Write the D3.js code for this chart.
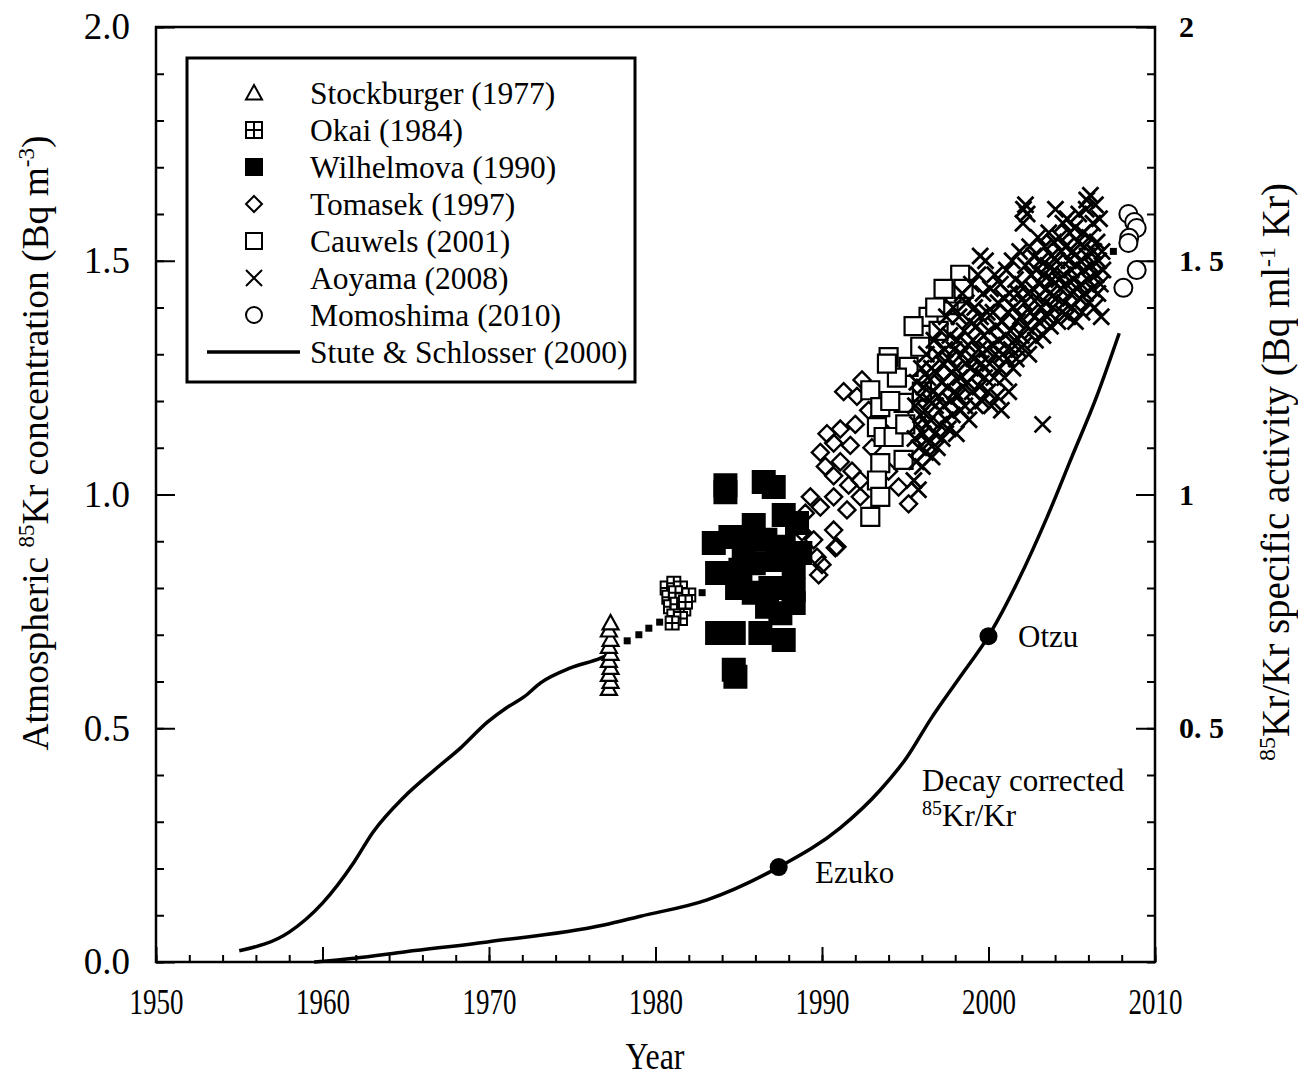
<!DOCTYPE html>
<html>
<head>
<meta charset="utf-8">
<script src="https://cdn.jsdelivr.net/npm/d3@7"></script>
<style>
body { margin: 0; background: #fff; }
text { font-family: "Liberation Serif", "Times New Roman", serif; fill: #000; }
</style>
</head>
<body>
<script>
// ---- data ----
const stuteYears = [1955.0, 1958.0, 1960.0, 1961.9, 1963.0, 1964.9, 1966.7, 1968.3, 1969.9, 1971.1, 1972.1, 1973.1, 1974.9, 1976.7, 1977.3]
const stuteValues = [0.024, 0.064, 0.126, 0.214, 0.276, 0.353, 0.41, 0.458, 0.513, 0.545, 0.567, 0.597, 0.629, 0.650, 0.660]

const decayYears = [1959.5, 1961.9, 1965.0, 1969.9, 1976.9, 1979.1, 1983.1, 1987.4, 1991.1, 1993.5, 1995.1, 1996.5, 1998.3, 2000.0, 2001.8, 2003.5, 2005.0, 2006.5, 2007.85]
const decayValues = [0.0, 0.008, 0.022, 0.043, 0.079, 0.098, 0.133, 0.203, 0.287, 0.368, 0.438, 0.518, 0.61, 0.697, 0.817, 0.95, 1.08, 1.21, 1.345]

const sites = [['Ezuko', 1987.4, 0.203], ['Otzu', 2000.0, 0.697]]

const stockburger = [[1977.2, 0.585], [1977.3, 0.60], [1977.2, 0.615], [1977.3, 0.63], [1977.2, 0.645], [1977.3, 0.66], [1977.2, 0.675], [1977.3, 0.69], [1977.2, 0.71], [1977.3, 0.725]]

const bridge = [[1978.3, 0.687], [1979.0, 0.70], [1979.6, 0.714], [1980.25, 0.727], [1982.8, 0.79], [2007.5, 1.52]]

const okai = [[1980.7, 0.80], [1981.1, 0.81], [1981.5, 0.80], [1980.8, 0.78], [1981.2, 0.79], [1981.6, 0.775], [1982.0, 0.785],
  [1980.9, 0.76], [1981.3, 0.765], [1981.7, 0.755], [1981.1, 0.74], [1981.5, 0.735], [1981.0, 0.725], [1981.8, 0.77]]

const wilhelmova = [[1984.2, 1.02], [1986.5, 1.027], [1987.1, 1.016], [1985.9, 0.935], [1987.7, 0.956], [1988.5, 0.939],
  [1983.5, 0.896], [1984.5, 0.909], [1985.3, 0.888], [1986.6, 0.903], [1987.7, 0.888], [1988.7, 0.875],
  [1983.7, 0.832], [1985.1, 0.839], [1985.9, 0.853], [1987.3, 0.86], [1988.3, 0.845], [1984.9, 0.80],
  [1985.9, 0.79], [1986.9, 0.80], [1988.3, 0.795], [1986.7, 0.76], [1988.3, 0.768], [1987.5, 0.746],
  [1983.7, 0.704], [1984.7, 0.704], [1986.3, 0.704], [1987.7, 0.689], [1984.7, 0.625], [1984.8, 0.61], [1984.2, 1.005]]

const tomasek = [[1990.2, 1.06], [1990.7, 1.04], [1989.3, 0.995], [1989.9, 0.973], [1990.7, 0.995], [1990.7, 0.924],
  [1989.5, 0.903], [1989.7, 0.866], [1990.8, 0.886], [1989.8, 0.828], [1991.3, 1.22], [1992.4, 1.245],
  [1992.1, 1.21], [1990.3, 1.13], [1991.1, 1.14], [1992.0, 1.15], [1989.9, 1.09], [1990.7, 1.11],
  [1991.7, 1.105], [1991.1, 1.07], [1991.8, 1.05], [1992.3, 1.03], [1991.5, 0.967], [1990.9, 0.888],
  [1994.6, 1.016], [1992.3, 0.995], [1989.0, 0.96], [1988.8, 0.92], [1993.0, 1.10], [1994.0, 1.05],
  [1993.6, 1.14], [1995.2, 0.98], [1992.8, 1.18], [1990.0, 0.85], [1991.6, 1.02]]

const cauwels = [[1994.0, 1.294], [1996.4, 1.38], [1995.5, 1.36], [1997.6, 1.405], [1992.9, 1.223], [1993.5, 1.187],
  [1993.3, 1.144], [1993.7, 1.123], [1993.5, 1.067], [1993.3, 1.03], [1993.5, 0.995], [1992.9, 0.952],
  [1994.9, 1.074], [1994.9, 1.196], [1994.3, 1.123], [1995.2, 1.273], [1995.9, 1.316], [1994.1, 1.20],
  [1998.3, 1.47], [1998.0, 1.43], [1997.0, 1.35], [1996.8, 1.40], [1994.5, 1.25], [1995.0, 1.15],
  [1996.0, 1.22], [1993.9, 1.28], [1997.3, 1.44], [1998.5, 1.44]]

const aoyama = [
  [1995.52, 1.03], [1995.58, 1.12], [1995.61, 1.19], [1995.66, 1.07], [1995.70, 1.24], [1995.74, 1.15], [1995.79, 1.01], [1995.83, 1.10], [1995.88, 1.21], [1995.92, 1.17], [1995.97, 1.27],
  [1996.03, 1.06], [1996.07, 1.13], [1996.12, 1.23], [1996.18, 1.18], [1996.22, 1.09], [1996.27, 1.30], [1996.31, 1.15], [1996.36, 1.25], [1996.41, 1.11], [1996.46, 1.20],
  [1996.52, 1.16], [1996.57, 1.27], [1996.61, 1.08], [1996.66, 1.22], [1996.72, 1.33], [1996.77, 1.13], [1996.82, 1.19], [1996.88, 1.26], [1996.93, 1.10], [1996.97, 1.30],
  [1997.02, 1.21], [1997.06, 1.15], [1997.11, 1.35], [1997.17, 1.24], [1997.22, 1.12], [1997.27, 1.28], [1997.33, 1.19], [1997.38, 1.31], [1997.43, 1.16], [1997.47, 1.38],
  [1997.53, 1.23], [1997.58, 1.14], [1997.63, 1.29], [1997.68, 1.34], [1997.72, 1.20], [1997.78, 1.26], [1997.83, 1.17], [1997.88, 1.40], [1997.93, 1.31], [1997.97, 1.22],
  [1998.02, 1.27], [1998.07, 1.13], [1998.13, 1.33], [1998.18, 1.21], [1998.23, 1.38], [1998.28, 1.25], [1998.33, 1.18], [1998.38, 1.30], [1998.43, 1.43], [1998.48, 1.23],
  [1998.53, 1.35], [1998.58, 1.19], [1998.62, 1.28], [1998.67, 1.41], [1998.72, 1.24], [1998.78, 1.32], [1998.83, 1.16], [1998.87, 1.37], [1998.92, 1.27], [1998.97, 1.45],
  [1999.02, 1.22], [1999.07, 1.33], [1999.12, 1.29], [1999.17, 1.40], [1999.22, 1.19], [1999.27, 1.36], [1999.32, 1.26], [1999.37, 1.47], [1999.42, 1.31], [1999.47, 1.23],
  [1999.52, 1.38], [1999.57, 1.28], [1999.62, 1.20], [1999.67, 1.43], [1999.72, 1.34], [1999.77, 1.25], [1999.82, 1.50], [1999.87, 1.31], [1999.92, 1.39], [1999.97, 1.22],
  [2000.02, 1.35], [2000.07, 1.28], [2000.12, 1.44], [2000.17, 1.19], [2000.22, 1.32], [2000.27, 1.39], [2000.32, 1.25], [2000.37, 1.47], [2000.42, 1.30], [2000.47, 1.36],
  [2000.52, 1.21], [2000.57, 1.41], [2000.62, 1.33], [2000.67, 1.27], [2000.72, 1.45], [2000.77, 1.18], [2000.82, 1.37], [2000.87, 1.30], [2000.92, 1.42], [2000.97, 1.25],
  [2001.02, 1.34], [2001.07, 1.48], [2001.12, 1.29], [2001.17, 1.39], [2001.22, 1.22], [2001.27, 1.43], [2001.32, 1.35], [2001.37, 1.31], [2001.42, 1.50], [2001.47, 1.27],
  [2001.52, 1.40], [2001.57, 1.33], [2001.62, 1.46], [2001.67, 1.29], [2001.72, 1.37], [2001.77, 1.43], [2001.82, 1.31], [2001.87, 1.52], [2001.92, 1.38], [2001.97, 1.34],
  [2002.02, 1.45], [2002.07, 1.58], [2002.12, 1.32], [2002.17, 1.41], [2002.22, 1.49], [2002.27, 1.36], [2002.32, 1.60], [2002.37, 1.43], [2002.42, 1.30], [2002.47, 1.53],
  [2002.52, 1.39], [2002.57, 1.47], [2002.62, 1.35], [2002.67, 1.44], [2002.72, 1.51], [2002.77, 1.38], [2002.82, 1.33], [2002.87, 1.48], [2002.92, 1.42], [2002.97, 1.55],
  [2003.02, 1.37], [2003.07, 1.45], [2003.12, 1.50], [2003.17, 1.40], [2003.25, 1.15], [2003.27, 1.34], [2003.32, 1.47], [2003.37, 1.53], [2003.42, 1.41], [2003.47, 1.44],
  [2003.52, 1.38], [2003.57, 1.49], [2003.62, 1.56], [2003.67, 1.43], [2003.72, 1.36], [2003.77, 1.51], [2003.82, 1.46], [2003.87, 1.40], [2003.92, 1.54], [2003.97, 1.48],
  [2004.02, 1.61], [2004.07, 1.42], [2004.12, 1.50], [2004.17, 1.37], [2004.22, 1.46], [2004.27, 1.55], [2004.32, 1.44], [2004.37, 1.52], [2004.42, 1.39], [2004.47, 1.58],
  [2004.52, 1.47], [2004.57, 1.41], [2004.62, 1.53], [2004.67, 1.45], [2004.72, 1.59], [2004.77, 1.38], [2004.82, 1.50], [2004.87, 1.56], [2004.92, 1.43], [2004.97, 1.48],
  [2005.02, 1.40], [2005.07, 1.52], [2005.12, 1.46], [2005.17, 1.57], [2005.22, 1.37], [2005.27, 1.49], [2005.32, 1.44], [2005.37, 1.54], [2005.42, 1.60], [2005.47, 1.42],
  [2005.52, 1.50], [2005.57, 1.45], [2005.62, 1.39], [2005.67, 1.56], [2005.72, 1.48], [2005.77, 1.53], [2005.82, 1.43], [2005.87, 1.61], [2005.92, 1.51], [2005.97, 1.46],
  [2006.02, 1.41], [2006.07, 1.55], [2006.12, 1.64], [2006.17, 1.49], [2006.22, 1.44], [2006.27, 1.58], [2006.32, 1.52], [2006.37, 1.40], [2006.42, 1.62], [2006.47, 1.47],
  [2006.52, 1.54], [2006.57, 1.43], [2006.62, 1.50], [2006.67, 1.59], [2006.72, 1.45], [2006.77, 1.38], [2006.82, 1.52], [2006.87, 1.48],
  [2002.10, 1.61], [2002.22, 1.62], [1999.50, 1.51], [2005.90, 1.63]
]

const momoshima = [[2008.4, 1.60], [2008.75, 1.583], [2008.9, 1.57], [2008.45, 1.549], [2008.4, 1.538], [2008.9, 1.48], [2008.1, 1.442]]

const legendNames = ['Stockburger (1977)', 'Okai (1984)', 'Wilhelmova (1990)', 'Tomasek (1997)', 'Cauwels (2001)', 'Aoyama (2008)', 'Momoshima (2010)', 'Stute & Schlosser (2000)']
const yearTicks = [1950, 1960, 1970, 1980, 1990, 2000, 2010]
const leftTicks = [0, 0.5, 1.0, 1.5, 2.0]
const rightTicks = [0.5, 1, 1.5, 2]
const rightTickLabels = ['0. 5', '1', '1. 5', '2']

// ---- layout ----
const width = 1298
const height = 1077
const plotLeft = 156, plotRight = 1155, plotTop = 27, plotBottom = 962

const x = d3.scaleLinear().domain([1950, 2010]).range([plotLeft, plotRight])
const y = d3.scaleLinear().domain([0, 2]).range([plotBottom, plotTop])

const svg = d3.select('body').append('svg')
    .attr('width', width)
    .attr('height', height)

// marker shapes, size = half width in px
const shapes = {
    triangle: { draw (c, r) { c.moveTo(0, -r); c.lineTo(r, r * 0.8); c.lineTo(-r, r * 0.8); c.closePath() } },
    square: { draw (c, r) { c.rect(-r, -r, 2 * r, 2 * r) } },
    gridSquare: { draw (c, r) { c.rect(-r, -r, 2 * r, 2 * r); c.moveTo(0, -r); c.lineTo(0, r); c.moveTo(-r, 0); c.lineTo(r, 0) } },
    diamond: { draw (c, r) { c.moveTo(0, -r); c.lineTo(r, 0); c.lineTo(0, r); c.lineTo(-r, 0); c.closePath() } },
    times: { draw (c, r) { c.moveTo(-r, -r); c.lineTo(r, r); c.moveTo(r, -r); c.lineTo(-r, r) } },
    circle: { draw (c, r) { c.moveTo(r, 0); c.arc(0, 0, r, 0, 2 * Math.PI) } }
}

const series = [
    { data: stockburger, shape: 'triangle', r: 8, fill: '#fff', sw: 2.2 },
    { data: okai, shape: 'gridSquare', r: 6.5, fill: '#fff', sw: 2 },
    { data: wilhelmova, shape: 'square', r: 11, fill: '#000', sw: 2 },
    { data: tomasek, shape: 'diamond', r: 8.5, fill: 'none', sw: 2.4 },
    { data: cauwels, shape: 'square', r: 9, fill: '#fff', sw: 2.2 },
    { data: aoyama, shape: 'times', r: 8, fill: 'none', sw: 2.8 },
    { data: momoshima, shape: 'circle', r: 9, fill: '#fff', sw: 2 }
]

// ---- axes ----
const styleAxis = g => {
    g.select('.domain').remove()
    g.selectAll('line').attr('stroke', '#000').attr('stroke-width', 2)
}

svg.append('g')
    .attr('transform', `translate(0,${plotBottom})`)
    .call(d3.axisBottom(x).tickValues(d3.range(1950, 2011, 2)).tickSize(-7).tickFormat(''))
    .call(styleAxis)

const xAxis = svg.append('g')
    .attr('transform', `translate(0,${plotBottom})`)
    .call(d3.axisBottom(x).tickValues(yearTicks).tickSize(-15).tickFormat(d3.format('d')))
    .call(styleAxis)
xAxis.selectAll('text')
    .attr('y', 0).attr('dy', 0)
    .attr('transform', 'translate(0,52) scale(1,1.3)')
    .attr('font-size', 27)
    .attr('font-family', '"Liberation Serif", serif')

svg.append('g')
    .attr('transform', `translate(${plotLeft},0)`)
    .call(d3.axisLeft(y).tickValues(d3.range(0, 2.01, 0.1)).tickSize(-8).tickFormat(''))
    .call(styleAxis)

svg.append('g')
    .attr('transform', `translate(${plotLeft},0)`)
    .call(d3.axisLeft(y).tickValues(leftTicks).tickSize(-19).tickPadding(26).tickFormat(d3.format('.1f')))
    .call(styleAxis)
    .selectAll('text')
    .attr('font-size', 37)
    .attr('font-family', '"Liberation Serif", serif')

svg.append('g')
    .attr('transform', `translate(${plotRight},0)`)
    .call(d3.axisRight(y).tickValues(d3.range(0, 2.01, 0.1)).tickSize(-8).tickFormat(''))
    .call(styleAxis)

svg.append('g')
    .attr('transform', `translate(${plotRight},0)`)
    .call(d3.axisRight(y).tickValues(rightTicks).tickSize(-19).tickPadding(24)
        .tickFormat(d => rightTickLabels[rightTicks.indexOf(d)]))
    .call(styleAxis)
    .selectAll('text')
    .attr('font-size', 30)
    .attr('font-weight', 'bold')
    .attr('font-family', '"Liberation Sans", sans-serif')

// frame
svg.append('rect')
    .attr('x', plotLeft).attr('y', plotTop)
    .attr('width', plotRight - plotLeft).attr('height', plotBottom - plotTop)
    .attr('fill', 'none').attr('stroke', '#000').attr('stroke-width', 2.5)

// ---- axis titles ----
svg.append('text')
    .attr('transform', 'translate(655,1069) scale(1,1.2)')
    .attr('text-anchor', 'middle')
    .attr('font-size', 32)
    .text('Year')

const leftTitle = svg.append('text')
    .attr('transform', 'translate(48,443) rotate(-90)')
    .attr('text-anchor', 'middle')
    .attr('font-size', 37.5)
leftTitle.append('tspan').text('Atmospheric ')
leftTitle.append('tspan').attr('font-size', 23).attr('dy', -14).text('85')
leftTitle.append('tspan').attr('dy', 14).text('Kr concentration (Bq m')
leftTitle.append('tspan').attr('font-size', 23).attr('dy', -14).text('-3')
leftTitle.append('tspan').attr('dy', 14).text(')')

const rightTitle = svg.append('text')
    .attr('transform', 'translate(1289,472) rotate(-90)')
    .attr('text-anchor', 'middle')
    .attr('font-size', 39)
rightTitle.append('tspan').attr('font-size', 24).attr('dy', -14).text('85')
rightTitle.append('tspan').attr('dy', 14).text('Kr/Kr specific activity (Bq ml')
rightTitle.append('tspan').attr('font-size', 24).attr('dy', -14).text('-1')
rightTitle.append('tspan').attr('dy', 14).text(' Kr)')

// ---- curves ----
const line = d3.line()
    .x(d => x(d[0]))
    .y(d => y(d[1]))
    .curve(d3.curveMonotoneX)

svg.append('path')
    .datum(d3.zip(stuteYears, stuteValues))
    .attr('d', line)
    .attr('fill', 'none').attr('stroke', '#000').attr('stroke-width', 3.5)

svg.append('path')
    .datum(d3.zip(decayYears, decayValues))
    .attr('d', line)
    .attr('fill', 'none').attr('stroke', '#000').attr('stroke-width', 3.5)

svg.selectAll('circle.site')
    .data(sites)
    .enter()
    .append('circle')
    .attr('class', 'site')
    .attr('cx', d => x(d[1]))
    .attr('cy', d => y(d[2]))
    .attr('r', 9)

svg.append('text').attr('x', 1018).attr('y', 647).attr('font-size', 31).text('Otzu')
svg.append('text').attr('x', 815).attr('y', 883).attr('font-size', 31).text('Ezuko')
svg.append('text').attr('x', 922).attr('y', 791).attr('font-size', 31).text('Decay corrected')
const decayLabel = svg.append('text').attr('x', 922).attr('y', 826).attr('font-size', 31)
decayLabel.append('tspan').attr('font-size', 20).attr('dy', -11).text('85')
decayLabel.append('tspan').attr('dy', 11).text('Kr/Kr')

// ---- scatter ----
svg.selectAll('rect.bridge')
    .data(bridge)
    .enter()
    .append('rect')
    .attr('class', 'bridge')
    .attr('x', d => x(d[0]) - 3.5)
    .attr('y', d => y(d[1]) - 3.5)
    .attr('width', 7).attr('height', 7)

series.forEach((s, i) => {
    const sym = d3.symbol().type(shapes[s.shape]).size(s.r)
    svg.append('g')
        .attr('class', 'series-' + i)
        .selectAll('path')
        .data(s.data)
        .enter()
        .append('path')
        .attr('transform', d => `translate(${x(d[0])},${y(d[1])})`)
        .attr('d', sym)
        .attr('fill', s.fill)
        .attr('stroke', '#000')
        .attr('stroke-width', s.sw)
})

// ---- legend ----
const legend = svg.append('g')
legend.append('rect')
    .attr('x', 187).attr('y', 58)
    .attr('width', 448).attr('height', 324)
    .attr('fill', '#fff').attr('stroke', '#000').attr('stroke-width', 3)

const rowY = i => 93 + i * 37

legendNames.forEach((name, i) => {
    legend.append('text')
        .attr('x', 310).attr('y', rowY(i))
        .attr('dy', '0.34em')
        .attr('font-size', 31.5)
        .text(name)
    if (i < series.length) {
        const s = series[i]
        legend.append('path')
            .attr('transform', `translate(254,${rowY(i)})`)
            .attr('d', d3.symbol().type(shapes[s.shape]).size(8))
            .attr('fill', s.fill)
            .attr('stroke', '#000')
            .attr('stroke-width', 2)
    } else {
        legend.append('line')
            .attr('x1', 207).attr('x2', 300)
            .attr('y1', rowY(i)).attr('y2', rowY(i))
            .attr('stroke', '#000').attr('stroke-width', 3.5)
    }
})
</script>
</body>
</html>
